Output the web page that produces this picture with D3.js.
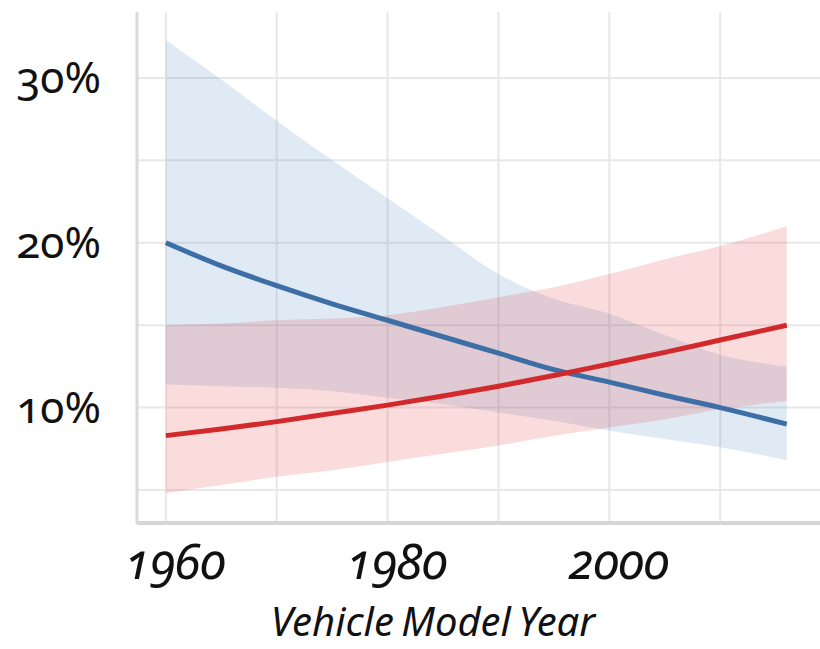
<!DOCTYPE html>
<html>
<head>
<meta charset="utf-8">
<script src="https://cdn.jsdelivr.net/npm/d3@7"></script>
<style>
  html, body { margin: 0; padding: 0; background: #ffffff; }
  svg { display: block; }
  text { font-family: "Noto Sans", "Open Sans", sans-serif; font-variant-numeric: oldstyle-nums; font-feature-settings: "onum" 1; fill: #111; }
</style>
</head>
<body>
<div id="chart"></div>
<script>
// ---- data ----
const years      = [1960, 1965, 1970, 1975, 1980, 1985, 1990, 1995, 2000, 2005, 2010, 2016];
const blueMean   = [20.0, 18.6, 17.4, 16.3, 15.3, 14.3, 13.3, 12.3, 11.55, 10.75, 10.0, 9.0];
const blueUpper  = [32.3, 29.9, 27.4, 25.0, 22.7, 20.4, 18.1, 16.6, 15.7, 14.4, 13.2, 12.5];
const blueLower  = [11.4, 11.3, 11.2, 11.0, 10.6, 10.2, 9.7, 9.2, 8.6, 8.1, 7.6, 6.8];
const redMean    = [8.3, 8.7, 9.15, 9.65, 10.15, 10.7, 11.3, 11.95, 12.65, 13.35, 14.1, 15.0];
const redUpper   = [15.0, 15.1, 15.3, 15.4, 15.6, 16.1, 16.7, 17.3, 18.1, 19.0, 19.8, 21.0];
const redLower   = [4.8, 5.3, 5.8, 6.2, 6.7, 7.2, 7.7, 8.3, 8.8, 9.3, 9.9, 10.4];
const xLabelTicks = [1960, 1980, 2000];
const xGridTicks  = [1960, 1970, 1980, 1990, 2000, 2010];
const yLabelTicks = [10, 20, 30];
const yGridTicks  = [5, 10, 15, 20, 25, 30];
const xTitle = "Vehicle Model Year";

const W = 820, H = 649;
const pLeft = 137, pRight = 820, pTop = 12, pBottom = 523;

const svg = d3.select("#chart").append("svg").attr("width", W).attr("height", H);

const x = d3.scaleLinear().domain([1957.4, 2019.0]).range([pLeft, pRight]);
const y = d3.scaleLinear().domain([3, 34]).range([pBottom, pTop]);

// gridlines
const grid = svg.append("g");
grid.selectAll("line.h").data(yGridTicks).join("line").attr("class", "h")
  .attr("x1", pLeft).attr("x2", pRight)
  .attr("y1", d => y(d)).attr("y2", d => y(d))
  .attr("stroke", "#e8e8e8").attr("stroke-width", 2);
grid.selectAll("line.v").data(xGridTicks).join("line").attr("class", "v")
  .attr("x1", d => x(d)).attr("x2", d => x(d))
  .attr("y1", pTop).attr("y2", pBottom)
  .attr("stroke", "#e8e8e8").attr("stroke-width", 2);

// bands
const rows = years.map((yr, i) => ({yr, bm: blueMean[i], bu: blueUpper[i], bl: blueLower[i], rm: redMean[i], ru: redUpper[i], rl: redLower[i]}));

const bandBlue = d3.area().x(d => x(d.yr)).y0(d => y(d.bl)).y1(d => y(d.bu)).curve(d3.curveMonotoneX);
const bandRed  = d3.area().x(d => x(d.yr)).y0(d => y(d.rl)).y1(d => y(d.ru)).curve(d3.curveMonotoneX);

svg.append("path").datum(rows).attr("d", bandBlue).attr("fill", "#3a7bbf").attr("fill-opacity", 0.16);
svg.append("path").datum(rows).attr("d", bandRed).attr("fill", "#e8302f").attr("fill-opacity", 0.17);

// axes
const xAxis = d3.axisBottom(x).tickValues(xLabelTicks).tickSize(0).tickPadding(0).tickFormat(d3.format("d"));
const yAxis = d3.axisLeft(y).tickValues(yLabelTicks).tickSize(0).tickPadding(36).tickFormat(d => d + "%");

const gx = svg.append("g").attr("transform", `translate(0,${pBottom})`).call(xAxis);
gx.select(".domain").remove();
gx.selectAll("text")
  .attr("y", 56).attr("dy", 0).attr("dx", 9)
  .style("font-size", "49px").style("font-style", "italic").attr("fill", "#111");

const gy = svg.append("g").attr("transform", `translate(${pLeft},0)`).call(yAxis);
gy.select(".domain").remove();
gy.selectAll("text")
  .attr("dy", 15)
  .style("font-size", "44px").attr("fill", "#111");

svg.append("line").attr("x1", pLeft).attr("x2", pLeft).attr("y1", pTop).attr("y2", pBottom + 1)
  .attr("stroke", "#d9d9d9").attr("stroke-width", 3);
svg.append("line").attr("x1", pLeft).attr("x2", pRight).attr("y1", pBottom).attr("y2", pBottom)
  .attr("stroke", "#d6d6d6").attr("stroke-width", 4);

// mean lines
const lineBlue = d3.line().x(d => x(d.yr)).y(d => y(d.bm)).curve(d3.curveMonotoneX);
const lineRed  = d3.line().x(d => x(d.yr)).y(d => y(d.rm)).curve(d3.curveMonotoneX);
svg.append("path").datum(rows).attr("d", lineBlue).attr("fill", "none").attr("stroke", "#3d6fa6").attr("stroke-width", 5);
svg.append("path").datum(rows).attr("d", lineRed).attr("fill", "none").attr("stroke", "#d22a2c").attr("stroke-width", 5);

// axis title
svg.append("text").attr("x", 433).attr("y", 636).attr("text-anchor", "middle")
  .style("font-size", "40px").style("font-style", "italic").style("word-spacing", "-3px")
  .text(xTitle);
</script>
</body>
</html>
